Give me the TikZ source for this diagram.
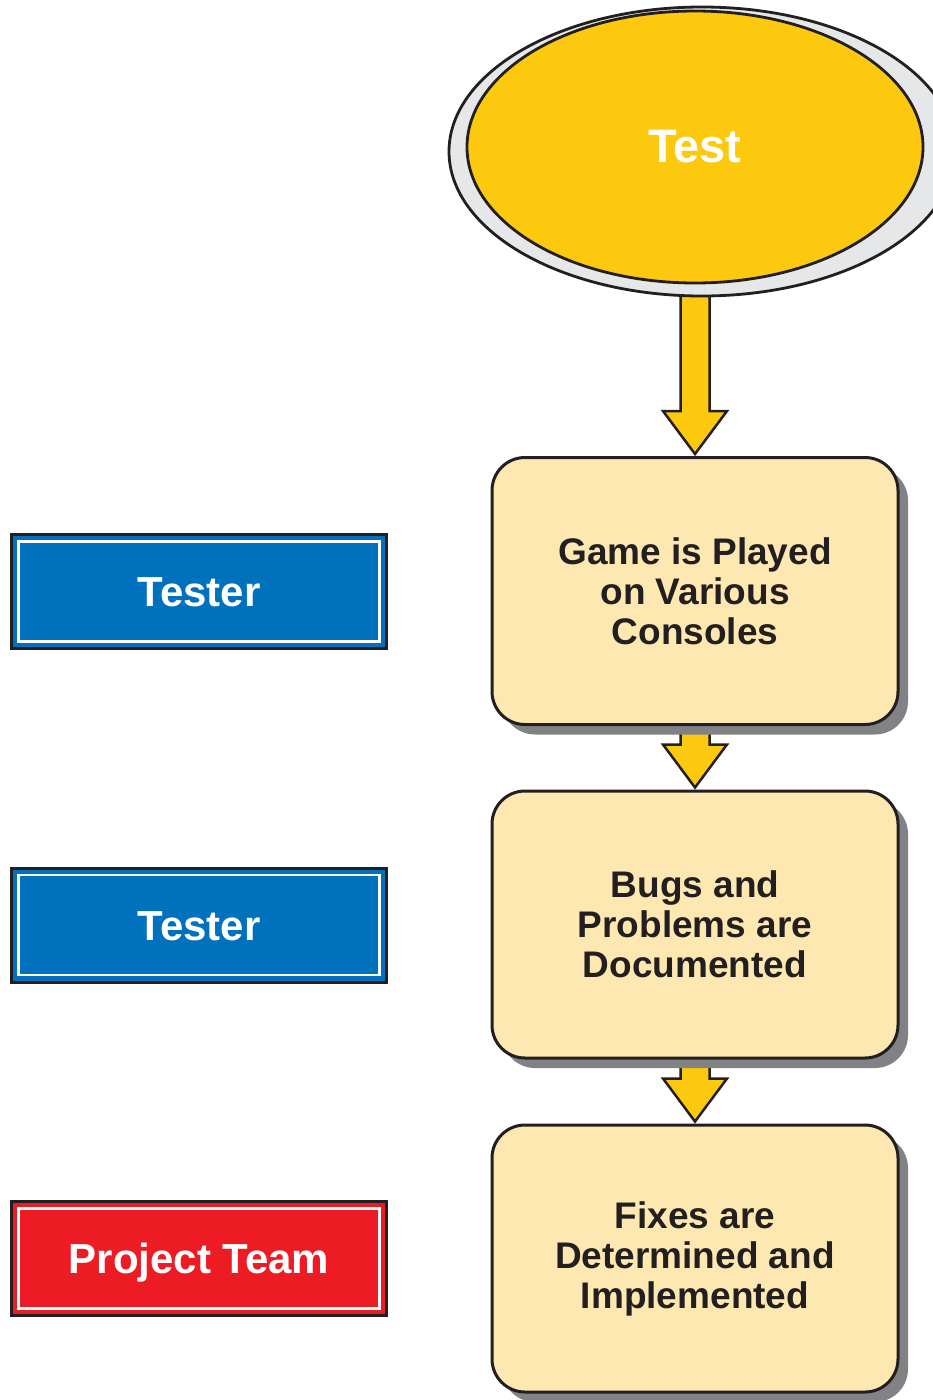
\documentclass[tikz,border=0pt]{standalone}
\usepackage{fontspec}
\setmainfont{Liberation Sans}
\usetikzlibrary{shapes.geometric,shadows,calc,backgrounds}

\definecolor{sunyellow}{HTML}{FDC90F}
\definecolor{paleyellow}{HTML}{FDE8B1}
\definecolor{ringgray}{HTML}{E6E7E8}
\definecolor{shadowgray}{HTML}{808285}
\definecolor{roleblue}{HTML}{0071BC}
\definecolor{rolered}{HTML}{ED1C24}
\definecolor{ink}{HTML}{231F20}

\tikzset{
  ringshape/.style={ellipse, draw=ink, line width=2.8pt, fill=ringgray, inner sep=0pt},
  startshape/.style={ellipse, draw=ink, line width=2.8pt, fill=sunyellow, inner sep=0pt,
    text=white, font=\fontsize{47}{50}\selectfont\bfseries},
  stepbox/.style={rectangle, rounded corners=33pt, draw=ink, line width=3pt, fill=paleyellow,
    minimum width=406pt, minimum height=267pt, align=center, text=ink,
    font=\fontsize{37}{40}\selectfont\bfseries,
    drop shadow={shadow xshift=10pt, shadow yshift=-10pt, fill=shadowgray, opacity=1}},
  rolebox/.style={rectangle, draw=ink, line width=3pt, minimum width=375pt, minimum height=114pt,
    inner sep=0pt, text=white, font=\fontsize{42}{46}\selectfont\bfseries,
    text height=30pt, text depth=0pt,
    path picture={\draw[white, line width=2.6pt]
      ([shift={(7pt,-7pt)}]path picture bounding box.north west) rectangle
      ([shift={(-7pt,7pt)}]path picture bounding box.south east);}},
  blockarrow/.style={draw=ink, line width=2.5pt, fill=sunyellow, line join=miter},
}

% Block arrow: shaft leaves #1, head tip touches #2
\newcommand\flowarrow[2]{%
  \draw[blockarrow] let \p1=(#1), \p2=(#2) in
    (\x2-14.5pt,\y1) -- (\x2+14.5pt,\y1) -- (\x2+14.5pt,\y2+45pt) -- (\x2+32pt,\y2+45pt)
    -- (\x2,\y2+2pt) -- (\x2-32pt,\y2+45pt) -- (\x2-14.5pt,\y2+45pt) -- cycle;}

\begin{document}
\begin{tikzpicture}[x=1pt,y=-1pt]
\useasboundingbox (0,0) rectangle (933,1400);
\clip (0,0) rectangle (933,1400);

% start ellipse with its grey rim
\node[ringshape, minimum width=506pt, minimum height=289pt] (ring) at (702,151.5) {};
\node[startshape, minimum width=456pt, minimum height=272pt] (test) at (695,147) {Test};

% process steps
\node[stepbox] (play)  at (695,591)    {Game is Played\\on Various\\Consoles};
\node[stepbox] (bugs)  at (695,924.5)  {Bugs and\\Problems are\\Documented};
\node[stepbox] (fixes) at (695,1258.5) {Fixes are\\Determined and\\Implemented};

% responsible roles
\node[rolebox, fill=roleblue] (tester1) at (199,591.5)  {Tester};
\node[rolebox, fill=roleblue] (tester2) at (199,925)    {Tester};
\node[rolebox, fill=rolered]  (team)    at (199,1258.5) {Project Team};

% flow arrows run beneath the shapes
\begin{pgfonlayer}{background}
  \flowarrow{test.south}{play.north}
  \flowarrow{play.south}{bugs.north}
  \flowarrow{bugs.south}{fixes.north}
\end{pgfonlayer}
\end{tikzpicture}
\end{document}
